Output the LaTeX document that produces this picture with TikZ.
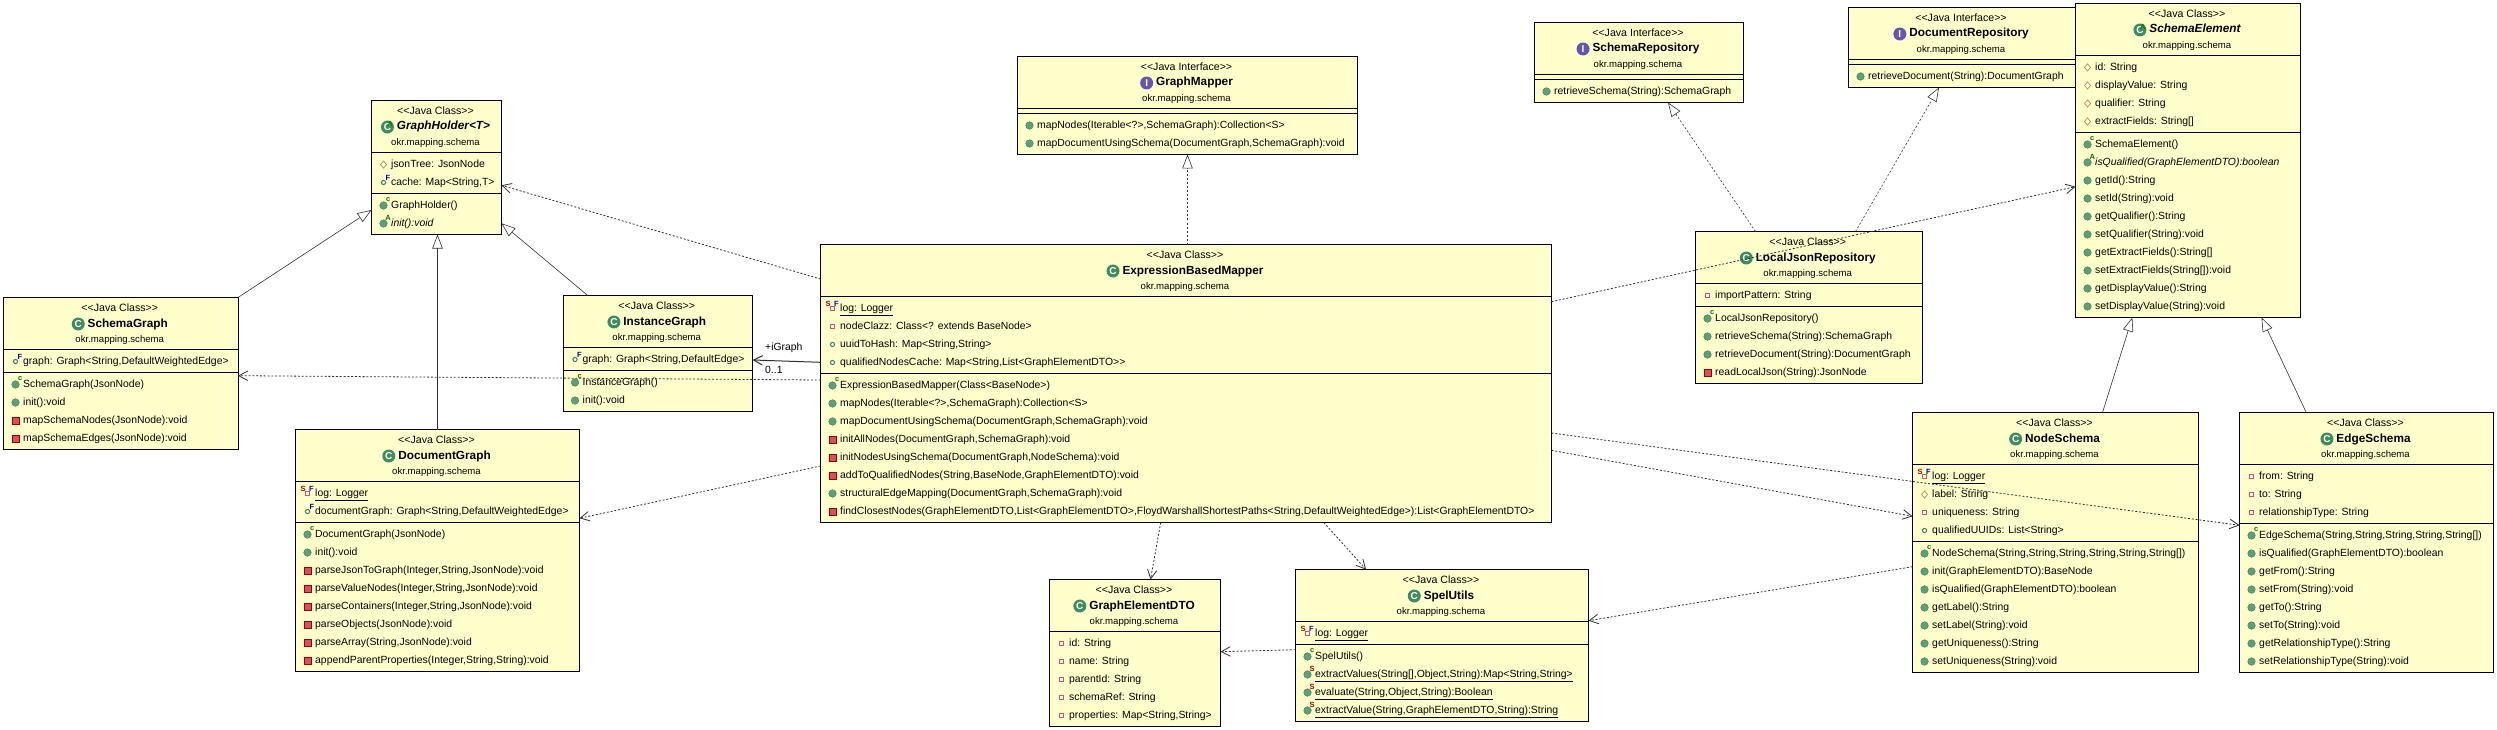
\documentclass[tikz,border=0pt]{standalone}
\usepackage{xcolor}
\usepackage{fontspec}
\setmainfont{Liberation Sans}[Ligatures=TeXOff]
\usetikzlibrary{positioning, calc, shapes.geometric, arrows.meta}

\definecolor{classfill}{HTML}{FFFFCC}
\definecolor{pubgreen}{HTML}{5E9E78}
\definecolor{pubdark}{HTML}{3A8058}
\definecolor{headgreen}{HTML}{3F8C60}
\definecolor{privred}{HTML}{D8505F}
\definecolor{protgold}{HTML}{C09030}
\definecolor{ifacepurple}{HTML}{6455B0}
\definecolor{linkgrey}{HTML}{303030}

\tikzset{
    classbody/.style={draw=black, fill=classfill, line width=1pt, rectangle, anchor=north west, inner sep=0pt, outer sep=0pt},
    rowtext/.style={anchor=west, inner sep=0pt, text height=8.5pt, text depth=2pt, font=\fontsize{10.4}{12}\selectfont},
    stereotext/.style={inner sep=0pt, font=\fontsize{10.6}{12}\selectfont},
    titletext/.style={inner sep=0pt, text height=8.5pt, text depth=2.5pt, font=\fontsize{11.8}{14}\selectfont\bfseries},
    packagetext/.style={inner sep=0pt, font=\fontsize{9.6}{12}\selectfont},
    headicon/.style={circle, inner sep=0pt, minimum size=13pt, line width=.6pt, text=white, font=\fontsize{10}{10}\selectfont\bfseries},
    tinyletter/.style={inner sep=0pt, font=\fontsize{7.5}{8}\selectfont\bfseries},
    extendsline/.style={line width=.6pt, draw=linkgrey, -{Triangle[open, fill=white, length=14pt, width=10.5pt]}},
    implline/.style={extendsline, dash pattern=on 2pt off 2pt},
    useline/.style={line width=.8pt, draw=linkgrey, dash pattern=on 2pt off 1.8pt, -{Straight Barb[length=9pt, width=9.5pt]}},
    holdline/.style={line width=1pt, draw=linkgrey, -{Straight Barb[length=9pt, width=9.5pt]}},
    pubm/.pic={\fill[pubgreen, draw=pubdark, line width=.4pt] (0,0) circle (3.8pt);},
    privm/.pic={\fill[privred, draw=red!60!black, line width=.4pt] (-3.2,-3.2) rectangle (3.2,3.2);},
    pubf/.pic={\draw[pubdark, line width=1pt, fill=white] (0,0) circle (2.1pt);},
    privf/.pic={\draw[privred, line width=1pt, fill=white] (-2.2,-2.2) rectangle (2.2,2.2);},
    protf/.pic={\draw[protgold, line width=.7pt, fill=white] (-3,0) -- (0,-3.6) -- (3,0) -- (0,3.6) -- cycle;},
    ctor/.pic={\pic {pubm}; \node[tinyletter, text=green!45!black] (-c) at (4.7,-5.5) {c};},
    absm/.pic={\pic {pubm}; \node[tinyletter, text=green!45!black] (-a) at (4.7,-5.5) {A};},
    statm/.pic={\pic {pubm}; \node[tinyletter, text=red!70!black] (-s) at (4.7,-5.5) {S};},
    finf/.pic={\pic {pubf}; \node[tinyletter, text=blue!60!black] (-f) at (4.5,-5) {F};},
    logf/.pic={\pic {privf}; \node[tinyletter, text=red!70!black] (-s) at (-4.5,-4.5) {S}; \node[tinyletter, text=blue!60!black] (-f) at (4,-5) {F};},
}

% head of a box: box name, kind, icon colour, letter, title
\newcommand{\classhead}[5]{
    \node[stereotext] (#1st) at ($(#1.north)+(-1,10)$) {<<Java #2>>};
    \node[titletext] (#1ti) at ($(#1.north)+(7,26.5)$) {#5};
    \node[headicon, fill=#3] (#1ic) [left=2.5pt of #1ti] {#4};
    \node[packagetext] (#1pk) at ($(#1.north)+(-1,43)$) {okr.mapping.schema};
}
\newcommand{\plainhead}[2]{\classhead{#1}{Class}{headgreen}{C}{#2}}
\newcommand{\abstracthead}[2]{
    \classhead{#1}{Class}{headgreen}{C}{\itshape #2}
    \node[tinyletter, text=green!45!black] (#1ab) at ($(#1ic.north east)+(-2,2)$) {A};
}
\newcommand{\ifacehead}[2]{\classhead{#1}{Interface}{ifacepurple}{I}{#2}}

% name, position, width, no. of fields, no. of methods, head, title, fields, methods
\newcommand{\classbox}[9]{
    \node[classbody, minimum width=#3pt, minimum height={(57+18*#4+(5+18*#5)*(#5>0))*1pt}] (#1) at #2 {};
    #6{#1}{#7}
    \draw[line width=1pt] ($(#1.north west)+(0,52)$) -- ($(#1.north east)+(0,52)$);
    \foreach \ico/\txt [count=\rownum from 0] in {#8}{
        \pic (#1fi\rownum) at ($(#1.north west)+(12,64+18*\rownum)$) {\ico};
        \node[rowtext] (#1ft\rownum) at ($(#1.north west)+(19.5,64+18*\rownum)$) {\txt};
    }
    \ifnum#5>0
    \draw[line width=1pt] ($(#1.north west)+(0,57+18*#4)$) -- ($(#1.north east)+(0,57+18*#4)$);
    \foreach \ico/\txt [count=\rownum from 0] in {#9}{
        \pic (#1mi\rownum) at ($(#1.north west)+(12,69+18*#4+18*\rownum)$) {\ico};
        \node[rowtext] (#1mt\rownum) at ($(#1.north west)+(19.5,69+18*#4+18*\rownum)$) {\txt};
    }
    \fi
}

\begin{document}
\begin{tikzpicture}[x=1pt, y=-1pt]
    \useasboundingbox (0,0) rectangle (2497,730);

    % Nodes
    \classbox{holder}{(371.5,100.5)}{130}{2}{2}{\abstracthead}{GraphHolder<T>}
        {protf/{jsonTree: JsonNode}, finf/{cache: Map<String,T>}}
        {ctor/{GraphHolder()}, absm/{\itshape init():void}}
    \classbox{schemagraph}{(3.5,297.5)}{234.5}{1}{4}{\plainhead}{SchemaGraph}
        {finf/{graph: Graph<String,DefaultWeightedEdge>}}
        {ctor/{SchemaGraph(JsonNode)}, pubm/{init():void}, privm/{mapSchemaNodes(JsonNode):void}, privm/{mapSchemaEdges(JsonNode):void}}
    \classbox{instance}{(563,295.5)}{189.5}{1}{2}{\plainhead}{InstanceGraph}
        {finf/{graph: Graph<String,DefaultEdge>}}
        {ctor/{InstanceGraph()}, pubm/{init():void}}
    \classbox{docgraph}{(295.5,429.5)}{284}{2}{8}{\plainhead}{DocumentGraph}
        {logf/{\underline{log: Logger}}, finf/{documentGraph: Graph<String,DefaultWeightedEdge>}}
        {ctor/{DocumentGraph(JsonNode)}, pubm/{init():void}, privm/{parseJsonToGraph(Integer,String,JsonNode):void},
         privm/{parseValueNodes(Integer,String,JsonNode):void}, privm/{parseContainers(Integer,String,JsonNode):void},
         privm/{parseObjects(JsonNode):void}, privm/{parseArray(String,JsonNode):void},
         privm/{appendParentProperties(Integer,String,String):void}}
    \classbox{graphmapper}{(1017.5,56.5)}{340}{0}{2}{\ifacehead}{GraphMapper}
        {}
        {pubm/{mapNodes(Iterable<?>,SchemaGraph):Collection<S>}, pubm/{mapDocumentUsingSchema(DocumentGraph,SchemaGraph):void}}
    \classbox{ebm}{(820.5,244.5)}{731}{4}{8}{\plainhead}{ExpressionBasedMapper}
        {logf/{\underline{log: Logger}}, privf/{nodeClazz: Class<? extends BaseNode>}, pubf/{uuidToHash: Map<String,String>},
         pubf/{qualifiedNodesCache: Map<String,List<GraphElementDTO>>}}
        {ctor/{ExpressionBasedMapper(Class<BaseNode>)}, pubm/{mapNodes(Iterable<?>,SchemaGraph):Collection<S>},
         pubm/{mapDocumentUsingSchema(DocumentGraph,SchemaGraph):void}, privm/{initAllNodes(DocumentGraph,SchemaGraph):void},
         privm/{initNodesUsingSchema(DocumentGraph,NodeSchema):void}, privm/{addToQualifiedNodes(String,BaseNode,GraphElementDTO):void},
         pubm/{structuralEdgeMapping(DocumentGraph,SchemaGraph):void},
         privm/{findClosestNodes(GraphElementDTO,List<GraphElementDTO>,FloydWarshallShortestPaths<String,DefaultWeightedEdge>):List<GraphElementDTO>}}
    \classbox{schemarepo}{(1534.5,22.5)}{209}{0}{1}{\ifacehead}{SchemaRepository}
        {}
        {pubm/{retrieveSchema(String):SchemaGraph}}
    \classbox{docrepo}{(1848.5,7.5)}{227}{0}{1}{\ifacehead}{DocumentRepository}
        {}
        {pubm/{retrieveDocument(String):DocumentGraph}}
    \classbox{schemaelement}{(2075.5,3.5)}{225}{4}{10}{\abstracthead}{SchemaElement}
        {protf/{id: String}, protf/{displayValue: String}, protf/{qualifier: String}, protf/{extractFields: String[]}}
        {ctor/{SchemaElement()}, absm/{\itshape isQualified(GraphElementDTO):boolean}, pubm/{getId():String}, pubm/{setId(String):void},
         pubm/{getQualifier():String}, pubm/{setQualifier(String):void}, pubm/{getExtractFields():String[]},
         pubm/{setExtractFields(String[]):void}, pubm/{getDisplayValue():String}, pubm/{setDisplayValue(String):void}}
    \classbox{localjson}{(1695.5,231.5)}{226.5}{1}{4}{\plainhead}{LocalJsonRepository}
        {privf/{importPattern: String}}
        {ctor/{LocalJsonRepository()}, pubm/{retrieveSchema(String):SchemaGraph}, pubm/{retrieveDocument(String):DocumentGraph},
         privm/{readLocalJson(String):JsonNode}}
    \classbox{nodeschema}{(1912.5,412.5)}{286}{4}{7}{\plainhead}{NodeSchema}
        {logf/{\underline{log: Logger}}, protf/{label: String}, privf/{uniqueness: String}, pubf/{qualifiedUUIDs: List<String>}}
        {ctor/{NodeSchema(String,String,String,String,String,String[])}, pubm/{init(GraphElementDTO):BaseNode},
         pubm/{isQualified(GraphElementDTO):boolean}, pubm/{getLabel():String}, pubm/{setLabel(String):void},
         pubm/{getUniqueness():String}, pubm/{setUniqueness(String):void}}
    \classbox{edgeschema}{(2239.5,412.5)}{254}{3}{8}{\plainhead}{EdgeSchema}
        {privf/{from: String}, privf/{to: String}, privf/{relationshipType: String}}
        {ctor/{EdgeSchema(String,String,String,String,String[])}, pubm/{isQualified(GraphElementDTO):boolean},
         pubm/{getFrom():String}, pubm/{setFrom(String):void}, pubm/{getTo():String}, pubm/{setTo(String):void},
         pubm/{getRelationshipType():String}, pubm/{setRelationshipType(String):void}}
    \classbox{dto}{(1049.5,579.5)}{171}{5}{0}{\plainhead}{GraphElementDTO}
        {privf/{id: String}, privf/{name: String}, privf/{parentId: String}, privf/{schemaRef: String}, privf/{properties: Map<String,String>}}
        {}
    \classbox{spel}{(1295.5,569.5)}{293}{1}{4}{\plainhead}{SpelUtils}
        {logf/{\underline{log: Logger}}}
        {ctor/{SpelUtils()}, statm/{\underline{extractValues(String[],Object,String):Map<String,String>}},
         statm/{\underline{evaluate(String,Object,String):Boolean}}, statm/{\underline{extractValue(String,GraphElementDTO,String):String}}}

    % Arrows
    \draw[extendsline] (schemagraph.north east) -- ([yshift=-109.5pt]holder.north west);
    \draw[extendsline] (docgraph.north) -- (docgraph.north |- holder.south);
    \draw[extendsline] ([xshift=24.7pt]instance.north west) -- ([yshift=-122.8pt]holder.north east);
    \draw[extendsline] ([xshift=190pt]nodeschema.north west) -- ([xshift=56.8pt]schemaelement.south west);
    \draw[extendsline] ([xshift=66.7pt]edgeschema.north west) -- ([xshift=186pt]schemaelement.south west);

    \draw[implline] (graphmapper.south |- ebm.north) -- (graphmapper.south);
    \draw[implline] ([xshift=60pt]localjson.north west) -- ([xshift=133.5pt]schemarepo.south west);
    \draw[implline] ([xshift=160pt]localjson.north west) -- ([xshift=90.5pt]docrepo.south west);

    \draw[useline] ([yshift=-34.5pt]ebm.north west) -- ([yshift=-84.8pt]holder.north east);
    \draw[useline] ([yshift=-135.5pt]ebm.north west) -- ([yshift=-78.2pt]schemagraph.north east);
    \draw[useline] ([yshift=-221.5pt]ebm.north west) -- ([yshift=-88.8pt]docgraph.north east);
    \draw[useline] ([yshift=-57.2pt]ebm.north east) -- ([yshift=-183.2pt]schemaelement.north west);
    \draw[useline] ([yshift=-205.8pt]ebm.north east) -- ([yshift=-103.8pt]nodeschema.north west);
    \draw[useline] ([yshift=-188.5pt]ebm.north east) -- ([yshift=-112.8pt]edgeschema.north west);
    \draw[useline] ([yshift=-154.2pt]nodeschema.north west) -- ([yshift=-51.2pt]spel.north east);
    \draw[useline] ([xshift=340.2pt]ebm.south west) -- ([xshift=101pt]dto.north west);
    \draw[useline] ([xshift=503.2pt]ebm.south west) -- ([xshift=70.5pt]spel.north west);
    \draw[useline] ([yshift=-80.2pt]spel.north west) -- ([yshift=-72.2pt]dto.north east);

    \draw[holdline] ([yshift=-117.8pt]ebm.north west) -- ([yshift=-64.5pt]instance.north east);
    \node[rowtext] (igraphlabel) at ($(instance.north east)+(12.5,51.5)$) {+iGraph};
    \node[rowtext] (multilabel) at ($(instance.north east)+(12.5,74.5)$) {0..1};
\end{tikzpicture}
\end{document}
